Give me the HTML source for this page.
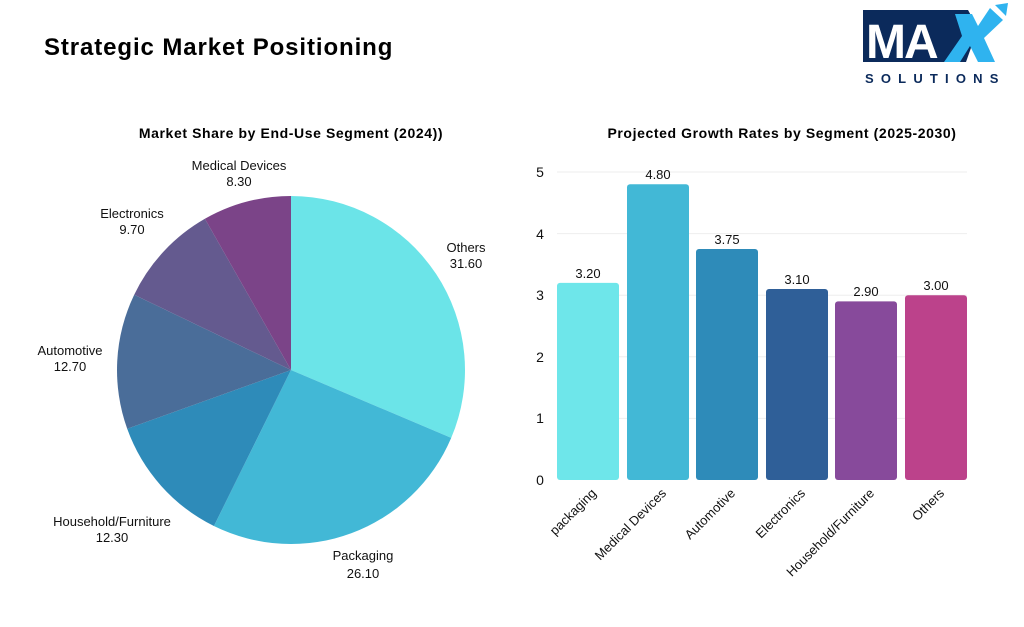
<!DOCTYPE html>
<html><head><meta charset="utf-8"><style>
body{margin:0;background:#fff;}
svg{display:block;font-family:"Liberation Sans",sans-serif;}
</style></head><body>
<svg width="1024" height="627" viewBox="0 0 1024 627" xmlns="http://www.w3.org/2000/svg">
<rect width="1024" height="627" fill="#fff"/>
<text x="44" y="55" font-size="24" font-weight="bold" fill="#000" letter-spacing="0.9">Strategic Market Positioning</text>
<!-- logo -->
<g>
<polygon points="863,10 968,10 978,28 966,62 863,62" fill="#0b2a5b"/>
<text x="866" y="58" font-size="48" font-weight="bold" fill="#fff" letter-spacing="-2">MA</text>
<polygon points="955,14 972,14 978,26 990,8 1003,20 984,38 995,62 978,62 970,46 960,62 944,62 962,36" fill="#2fb3ef"/>
<polygon points="995,5 1008,3 1006,16" fill="#2fb3ef"/>
<text x="865" y="83" font-size="13" font-weight="bold" fill="#0b2a5b" letter-spacing="7.2">SOLUTIONS</text>
</g>
<text x="291" y="138" font-size="14" font-weight="bold" text-anchor="middle" fill="#000" letter-spacing="0.6">Market Share by End-Use Segment (2024))</text>
<text x="782" y="138" font-size="14" font-weight="bold" text-anchor="middle" fill="#000" letter-spacing="0.6">Projected Growth Rates by Segment (2025-2030)</text>
<!-- pie -->
<g>
<path d="M291,370 L291,196 A174,174 0 0 1 451.2,437.9 Z" fill="#6be4e8"/>
<path d="M291,370 L451.2,437.9 A174,174 0 0 1 213.9,526 Z" fill="#42b8d6"/>
<path d="M291,370 L213.9,526 A174,174 0 0 1 127.2,428.8 Z" fill="#2e8bb9"/>
<path d="M291,370 L127.2,428.8 A174,174 0 0 1 134.2,294.7 Z" fill="#4a6d99"/>
<path d="M291,370 L134.2,294.7 A174,174 0 0 1 204.9,218.8 Z" fill="#645a8f"/>
<path d="M291,370 L204.9,218.8 A174,174 0 0 1 291,196 Z" fill="#7b4488"/>
</g>
<g font-size="13" fill="#111" text-anchor="middle">
<text x="239" y="170">Medical Devices</text><text x="239" y="186">8.30</text>
<text x="132" y="218">Electronics</text><text x="132" y="234">9.70</text>
<text x="466" y="252">Others</text><text x="466" y="268">31.60</text>
<text x="70" y="355">Automotive</text><text x="70" y="371">12.70</text>
<text x="112" y="526">Household/Furniture</text><text x="112" y="542">12.30</text>
<text x="363" y="560">Packaging</text><text x="363" y="578">26.10</text>
</g>
<!-- bars -->
<g stroke="#eee" stroke-width="1">
<line x1="557" y1="172" x2="967" y2="172"/>
<line x1="557" y1="233.6" x2="967" y2="233.6"/>
<line x1="557" y1="295.2" x2="967" y2="295.2"/>
<line x1="557" y1="356.8" x2="967" y2="356.8"/>
<line x1="557" y1="418.4" x2="967" y2="418.4"/>
</g>
<g font-size="14" fill="#111" text-anchor="middle">
<text x="540" y="177">5</text><text x="540" y="239">4</text><text x="540" y="300">3</text>
<text x="540" y="362">2</text><text x="540" y="423">1</text><text x="540" y="485">0</text>
</g>
<g>
<rect x="557" y="282.9" width="62" height="197.1" rx="3" fill="#6ee6ea"/>
<rect x="627" y="184.3" width="62" height="295.7" rx="3" fill="#42b8d6"/>
<rect x="696" y="249" width="62" height="231" rx="3" fill="#2e8bb9"/>
<rect x="766" y="289" width="62" height="191" rx="3" fill="#2f5f98"/>
<rect x="835" y="301.4" width="62" height="178.6" rx="3" fill="#874a9b"/>
<rect x="905" y="295.2" width="62" height="184.8" rx="3" fill="#bc428b"/>
</g>
<g font-size="13" fill="#111" text-anchor="middle">
<text x="588" y="278">3.20</text><text x="658" y="179">4.80</text><text x="727" y="244">3.75</text>
<text x="797" y="284">3.10</text><text x="866" y="296">2.90</text><text x="936" y="290">3.00</text>
</g>
<g font-size="13" fill="#111" text-anchor="end">
<text transform="translate(597,494) rotate(-45)">packaging</text>
<text transform="translate(667,494) rotate(-45)">Medical Devices</text>
<text transform="translate(736,494) rotate(-45)">Automotive</text>
<text transform="translate(806,494) rotate(-45)">Electronics</text>
<text transform="translate(875,494) rotate(-45)">Household/Furniture</text>
<text transform="translate(945,494) rotate(-45)">Others</text>
</g>
</svg>
</body></html>
